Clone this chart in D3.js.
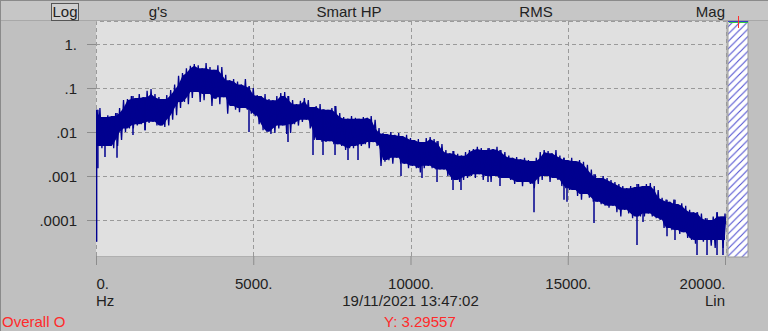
<!DOCTYPE html>
<html>
<head>
<meta charset="utf-8">
<script src="https://cdn.jsdelivr.net/npm/d3@7"></script>
<style>
  body { margin: 0; background: #c0c0c0; }
  svg { display: block; font-family: "Liberation Sans", Arial, sans-serif; }
</style>
</head>
<body>
<svg width="768" height="331"></svg>
<script>
// spectrum: top and bottom of the band in each 125 Hz bin (g's)
const freqStep = 125;
const peaks = [
  0.032, 0.035, 0.022, 0.024, 0.023, 0.027, 0.035, 0.053, 0.056, 0.066,
  0.059, 0.073, 0.062, 0.086, 0.095, 0.073, 0.062, 0.056, 0.069, 0.09,
  0.12, 0.19, 0.22, 0.28, 0.32, 0.35, 0.33, 0.28, 0.37, 0.30,
  0.26, 0.33, 0.30, 0.20, 0.15, 0.16, 0.14, 0.12, 0.16, 0.11,
  0.10, 0.069, 0.066, 0.073, 0.056, 0.053, 0.066, 0.077, 0.081, 0.066,
  0.053, 0.043, 0.051, 0.059, 0.053, 0.037, 0.039, 0.043, 0.033, 0.032,
  0.035, 0.039, 0.027, 0.022, 0.020, 0.023, 0.021, 0.020, 0.022, 0.021,
  0.023, 0.019, 0.0123, 0.0095, 0.009, 0.010, 0.0086, 0.0095, 0.0081, 0.0086,
  0.0073, 0.0066, 0.0069, 0.0059, 0.0073, 0.0077, 0.0069, 0.0062, 0.0053, 0.0039,
  0.0033, 0.0037, 0.0032, 0.0029, 0.0035, 0.0039, 0.0041, 0.0046, 0.0043, 0.0039,
  0.0043, 0.0041, 0.0046, 0.0039, 0.0035, 0.0029, 0.0026, 0.0027, 0.0024, 0.0026,
  0.0023, 0.0022, 0.0026, 0.0035, 0.0039, 0.0037, 0.0033, 0.0039, 0.0029, 0.0026,
  0.0023, 0.0026, 0.0022, 0.0023, 0.0021, 0.0018, 0.0014, 0.0011, 0.0009, 0.001,
  0.0009, 0.00081, 0.00073, 0.00066, 0.00059, 0.00053, 0.00059, 0.00056, 0.00066, 0.00059,
  0.00066, 0.00069, 0.00059, 0.00048, 0.00032, 0.00029, 0.00026, 0.00029, 0.00023, 0.00024,
  0.00021, 0.00017, 0.00015, 0.00015, 0.00014, 0.00011, 0.0001, 0.00012, 0.00015, 0.00012,
  0.00014
];
const troughs = [
  0.0048, 0.0043, 0.0048, 0.0048, 0.0043, 0.0048, 0.0066, 0.01, 0.012, 0.012,
  0.014, 0.015, 0.011, 0.016, 0.017, 0.014, 0.014, 0.013, 0.014, 0.019,
  0.024, 0.035, 0.048, 0.043, 0.059, 0.081, 0.048, 0.053, 0.073, 0.039,
  0.056, 0.043, 0.062, 0.026, 0.039, 0.032, 0.028, 0.035, 0.032, 0.026,
  0.023, 0.015, 0.011, 0.01, 0.009, 0.0095, 0.012, 0.014, 0.009, 0.0095,
  0.015, 0.014, 0.017, 0.019, 0.012, 0.0066, 0.0066, 0.0059, 0.0059, 0.0062,
  0.0053, 0.0053, 0.0048, 0.0039, 0.0043, 0.0043, 0.0048, 0.0048, 0.0053, 0.0043,
  0.0059, 0.0048, 0.0017, 0.0021, 0.0023, 0.0019, 0.0026, 0.0019, 0.0019, 0.0015,
  0.0017, 0.0015, 0.0012, 0.0015, 0.0017, 0.0015, 0.0014, 0.0014, 0.0014, 0.001,
  0.00081, 0.00081, 0.00073, 0.00081, 0.0009, 0.001, 0.0009, 0.0011, 0.00081, 0.001,
  0.00073, 0.001, 0.0009, 0.0009, 0.0009, 0.00081, 0.00066, 0.00073, 0.00059, 0.00073,
  0.00066, 0.00053, 0.00066, 0.00081, 0.001, 0.00073, 0.0009, 0.00081, 0.00059, 0.00053,
  0.00048, 0.00048, 0.00035, 0.00029, 0.00039, 0.00032, 0.00026, 0.00026, 0.00023, 0.00021,
  0.00019, 0.00021, 0.00015, 0.00012, 0.00017, 0.00014, 0.00011, 0.00012, 0.00012, 0.00012,
  0.00014, 0.00012, 0.00011, 0.0001, 0.000066, 0.000066, 0.000059, 0.000059, 0.000048, 0.000053,
  0.000039, 0.000035, 0.000029, 0.000035, 0.000032, 0.000035, 0.000026, 0.000023, 0.000035, 0.000023,
  0.000035
];
const freqs = peaks.map((d, i) => i * freqStep);

// thin downward spikes below the band: [Hz, g's]
const dips = [
  [20, 0.000032], [60, 0.0015], [286, 0.0027], [668, 0.0026], [1176, 0.0086],
  [1558, 0.011], [4865, 0.01], [6105, 0.0059], [6900, 0.003], [7218, 0.003],
  [7600, 0.003], [8013, 0.0023], [8331, 0.0023], [9698, 0.001], [10366, 0.0009],
  [10843, 0.00073], [11352, 0.00048], [11606, 0.00048], [12464, 0.00073], [12846, 0.00059],
  [13927, 0.00015], [14881, 0.00029], [14976, 0.00026], [15835, 0.000085], [17202, 0.000027],
  [17393, 0.00009], [18156, 0.000043], [18410, 0.000035], [19110, 0.000016], [19428, 0.000016],
  [19746, 0.000016], [19936, 0.000016]
];

const yTicks = [1, 0.1, 0.01, 0.001, 0.0001];
const yTickLabels = ['1.', '.1', '.01', '.001', '.0001'];
const xTicks = [0, 5000, 10000, 15000, 20000];
const xTickLabels = ['0.', '5000.', '10000.', '15000.', '20000.'];
const headerLabels = ["g's", 'Smart HP', 'RMS', 'Mag'];
const footer = { left: 'Hz', middle: '19/11/2021 13:47:02', right: 'Lin' };
const status = { left: 'Overall O', right: 'Y: 3.29557' };

const plot = { left: 96, right: 726, top: 21, bottom: 256 };
const traceColor = '#00008f';

const svg = d3.select('svg');

svg.append('rect')
  .attr('width', 768).attr('height', 331)
  .attr('fill', '#c0c0c0');
svg.append('rect')
  .attr('width', 768).attr('height', 20)
  .attr('fill', '#c6c6c6');
svg.append('line')
  .attr('x1', 0).attr('x2', 768).attr('y1', 20.5).attr('y2', 20.5)
  .attr('stroke', '#a8a8a8');
svg.append('line')
  .attr('x1', 0).attr('x2', 768).attr('y1', 0.5).attr('y2', 0.5)
  .attr('stroke', '#8a8a8a');
svg.append('line')
  .attr('x1', 0.5).attr('x2', 0.5).attr('y1', 0).attr('y2', 331)
  .attr('stroke', '#8a8a8a');

const xScale = d3.scaleLinear()
  .domain([0, 20000])
  .range([96, 725]);
const yScale = d3.scaleLog()
  .domain([0.0001, 1])
  .range([220, 44]);

// plot background
svg.append('rect')
  .attr('x', plot.left).attr('y', plot.top)
  .attr('width', plot.right - plot.left).attr('height', plot.bottom - plot.top)
  .attr('fill', '#e0e0e0');

const grid = svg.append('g')
  .attr('stroke', '#9a9a9a')
  .attr('stroke-dasharray', '4,3');
grid.selectAll('.hg')
  .data(yTicks)
  .enter()
  .append('line')
  .attr('x1', plot.left).attr('x2', plot.right)
  .attr('y1', d => Math.round(yScale(d)) + 0.5)
  .attr('y2', d => Math.round(yScale(d)) + 0.5);
grid.selectAll('.vg')
  .data(xTicks.slice(1, -1))
  .enter()
  .append('line')
  .attr('x1', d => Math.round(xScale(d)) + 0.5)
  .attr('x2', d => Math.round(xScale(d)) + 0.5)
  .attr('y1', plot.top).attr('y2', plot.bottom);
grid.append('path')
  .attr('fill', 'none')
  .attr('d', `M${plot.left + 0.5},${plot.bottom}V${plot.top + 0.5}H${plot.right + 0.5}V${plot.bottom}`);

svg.append('line')
  .attr('x1', plot.left).attr('x2', plot.right + 1)
  .attr('y1', plot.bottom + 0.5).attr('y2', plot.bottom + 0.5)
  .attr('stroke', '#b0b0b0');

// trace
svg.append('clipPath')
  .attr('id', 'clip')
  .append('rect')
  .attr('x', plot.left).attr('y', plot.top)
  .attr('width', plot.right - plot.left).attr('height', plot.bottom - plot.top);

const trace = svg.append('g').attr('clip-path', 'url(#clip)');

const bins = freqs.map((f, i) => ({ f: f, hi: peaks[i], lo: troughs[i] }));

// solid core of the band: what all neighbouring bins cover
const core = bins.map((b, i) => {
  const nb = bins.slice(Math.max(0, i - 1), i + 2);
  return { f: b.f, hi: d3.min(nb, d => d.hi), lo: d3.max(nb, d => d.lo) };
});

trace.append('path')
  .datum(core)
  .attr('fill', traceColor)
  .attr('d', d3.area()
    .x(d => xScale(d.f))
    .y0(d => yScale(d.lo))
    .y1(d => yScale(Math.max(d.hi, d.lo))));

// zigzag through the bins for the ragged edge
const points = [];
bins.forEach(b => {
  points.push([b.f, b.hi]);
  points.push([b.f + freqStep / 2, b.lo]);
});
trace.append('path')
  .datum(points)
  .attr('fill', 'none')
  .attr('stroke', traceColor)
  .attr('stroke-width', 1.3)
  .attr('d', d3.line().x(d => xScale(d[0])).y(d => yScale(d[1])));

trace.selectAll('.dip')
  .data(dips)
  .enter()
  .append('line')
  .attr('x1', d => xScale(d[0]))
  .attr('x2', d => xScale(d[0]))
  .attr('y1', d => yScale(peaks[Math.min(peaks.length - 1, Math.round(d[0] / freqStep))]))
  .attr('y2', d => yScale(d[1]))
  .attr('stroke', traceColor)
  .attr('stroke-width', 1.5);

// axes
const yAxis = d3.axisLeft(yScale)
  .tickValues(yTicks)
  .tickSize(9)
  .tickPadding(10)
  .tickFormat((d, i) => yTickLabels[i]);
const xAxis = d3.axisBottom(xScale)
  .tickValues(xTicks)
  .tickSize(9)
  .tickPadding(13)
  .tickFormat((d, i) => xTickLabels[i]);

const gy = svg.append('g')
  .attr('transform', `translate(${plot.left},0)`)
  .call(yAxis);
const gx = svg.append('g')
  .attr('transform', `translate(0,${plot.bottom})`)
  .call(xAxis);

[gx, gy].forEach(g => {
  g.select('.domain').remove();
  g.selectAll('.tick line').attr('stroke', '#8c8c8c');
  g.selectAll('.tick text')
    .attr('fill', '#222')
    .attr('font-size', 15)
    .attr('font-family', '"Liberation Sans", Arial, sans-serif');
});
gy.selectAll('.tick text').attr('dy', '0.36em');
gx.selectAll('.tick text')
  .attr('text-anchor', (d, i) => i === 0 ? 'start' : i === xTicks.length - 1 ? 'end' : 'middle');

// hatched box at the right end
const defs = svg.append('defs');
const pat = defs.append('pattern')
  .attr('id', 'hatch')
  .attr('patternUnits', 'userSpaceOnUse')
  .attr('width', 7.4).attr('height', 7.4);
pat.append('rect').attr('width', 7.4).attr('height', 7.4).attr('fill', '#fff');
pat.append('path')
  .attr('d', 'M-1,1L1,-1M0,7.4L7.4,0M6.4,8.4L8.4,6.4')
  .attr('stroke', '#4e4ed0')
  .attr('stroke-width', 1.1);

svg.append('rect')
  .attr('x', 728).attr('y', 21)
  .attr('width', 20).attr('height', 236)
  .attr('fill', 'url(#hatch)')
  .attr('stroke', '#9a9a9a');
svg.append('line')
  .attr('x1', 728).attr('x2', 748).attr('y1', 21.5).attr('y2', 21.5)
  .attr('stroke', '#3a3acc').attr('stroke-width', 1);
svg.append('line')
  .attr('x1', 729).attr('x2', 748).attr('y1', 22.5).attr('y2', 22.5)
  .attr('stroke', '#33cc44').attr('stroke-width', 1);
svg.append('line')
  .attr('x1', 738.5).attr('x2', 738.5).attr('y1', 16).attr('y2', 28)
  .attr('stroke', '#ff3030').attr('stroke-width', 1);

// header
svg.append('rect')
  .attr('x', 51.5).attr('y', 3.5)
  .attr('width', 27).attr('height', 17)
  .attr('fill', '#cfcfcf')
  .attr('stroke', '#555');
svg.append('text')
  .attr('x', 65).attr('y', 17)
  .attr('text-anchor', 'middle')
  .attr('font-size', 15)
  .attr('fill', '#222')
  .text('Log');

const headerX = [158, 349, 536, 725];
svg.selectAll('.hdr')
  .data(headerLabels)
  .enter()
  .append('text')
  .attr('x', (d, i) => headerX[i])
  .attr('y', 17)
  .attr('text-anchor', (d, i) => i === headerLabels.length - 1 ? 'end' : 'middle')
  .attr('font-size', 15)
  .attr('fill', '#222')
  .text(d => d);

// footer
svg.append('text')
  .attr('x', 96).attr('y', 306)
  .attr('font-size', 15).attr('fill', '#222')
  .text(footer.left);
svg.append('text')
  .attr('x', xScale(10000)).attr('y', 306)
  .attr('text-anchor', 'middle')
  .attr('font-size', 15).attr('fill', '#222')
  .text(footer.middle);
svg.append('text')
  .attr('x', 725).attr('y', 306)
  .attr('text-anchor', 'end')
  .attr('font-size', 15).attr('fill', '#222')
  .text(footer.right);

svg.append('text')
  .attr('x', 2).attr('y', 327)
  .attr('font-size', 15).attr('fill', '#ff2a2a')
  .text(status.left);
svg.append('text')
  .attr('x', 384).attr('y', 327)
  .attr('font-size', 15).attr('fill', '#ff2a2a')
  .text(status.right);
</script>
</body>
</html>
